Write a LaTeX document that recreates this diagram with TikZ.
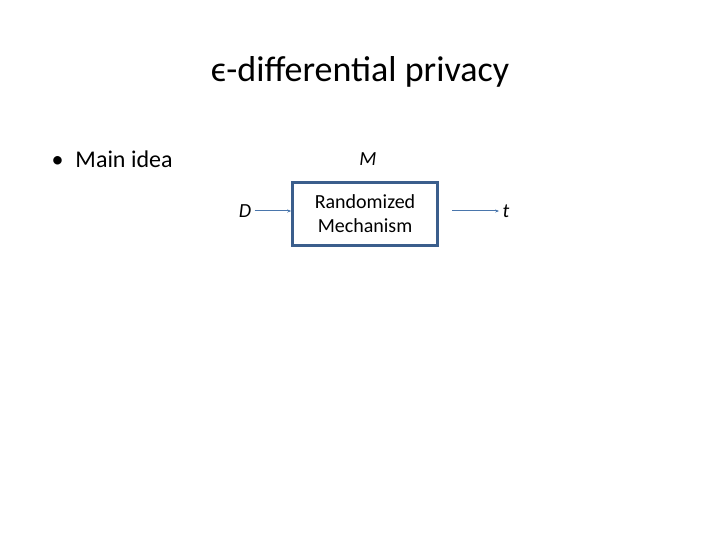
\documentclass[tikz,border=0pt]{standalone}
\usepackage{fontspec}
\setmainfont{Carlito}
\usetikzlibrary{arrows.meta}
\definecolor{boxc}{HTML}{3B5E8C}
\definecolor{arrc}{HTML}{4A76AC}
\begin{document}
\begin{tikzpicture}[x=1pt,y=-1pt,
  lab/.style={font=\fontsize{20}{22}\selectfont\itshape},
  con/.style={draw=arrc,line width=1pt,-{Stealth[length=4pt,width=3pt]}}]
\useasboundingbox (0,0) rectangle (720,540);
\node (title) at (360,72) {\fontsize{36}{40}\selectfont ϵ-differential privacy};
\node[anchor=west] (idea) at (48,159) {\fontsize{24}{28}\selectfont •\hspace{12pt}Main idea};
\node[draw=boxc,line width=2.5pt,minimum width=145pt,minimum height=63pt,align=center,
  font=\fontsize{20}{24}\selectfont] (mech) at (365,214) {Randomized\\Mechanism};
\node[lab] (M) at (368,159) {M};
\node[lab] (D) at (245,211) {D};
\node[lab] (t) at (506,211) {t};
\coordinate (o1) at (452,211);
\draw[con] (D.east) -- (mech.west|-D.east);
\draw[con] (o1) -- (t.west);
\end{tikzpicture}
\end{document}
